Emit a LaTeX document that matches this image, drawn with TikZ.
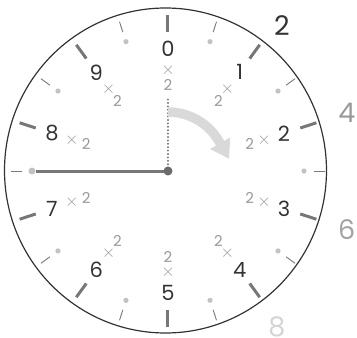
\documentclass[tikz,border=0pt]{standalone}
\usepackage{fontspec}
\setmainfont{Poppins}
\usetikzlibrary{arrows.meta}
\definecolor{ink}{HTML}{333333}
\definecolor{tickgray}{HTML}{777777}
\definecolor{softgray}{HTML}{999999}
\definecolor{dotgray}{HTML}{C2C2C2}
\definecolor{turngray}{HTML}{D9D9D9}

\tikzset{
  rim/.style={draw=ink, line width=1.2pt},
  bigtick/.style={draw=tickgray, line width=3pt},
  smalltick/.style={draw=tickgray, line width=0.9pt},
  num/.style={text=ink, font=\fontsize{21}{21}\selectfont, inner sep=0pt},
  timesmark/.style={text=softgray, font=\fontsize{16}{16}\selectfont, inner sep=0pt},
  twomark/.style={text=softgray, font=\fontsize{15}{15}\selectfont, inner sep=0pt},
  result/.style={font=\fontsize{27}{27}\selectfont, inner sep=0pt},
  hub/.style={circle, fill=tickgray!90!black, minimum size=9pt, inner sep=0pt},
  handend/.style={circle, fill=dotgray, minimum size=7pt, inner sep=0pt},
  hand/.style={draw=tickgray, line width=3pt},
  guide/.style={draw=tickgray, line width=2.2pt, line cap=round, dash pattern=on 0pt off 3.4pt},
  turn/.style={draw=turngray, line width=9.5pt, -{Triangle[width=22pt,length=18pt]}}
}

\begin{document}
\begin{tikzpicture}[x=1pt, y=1pt]
\useasboundingbox (-168,-167) rectangle (189,171);

% dial
\draw[rim] (-2.5,0.5) ellipse [x radius=161, y radius=162.5];
\foreach \a in {90,54,...,-234} \draw[bigtick] (\a:139) -- (\a:156);
\foreach \a in {72,36,...,-252} {
  \draw[smalltick] (\a:146) -- (\a:157);
  \fill[dotgray] (\a:136) circle[radius=2.6];
}

% numbers
\node[num] (n0) at (90:122) {0};
\node[num] (n1) at (54:122) {1};
\node[num] (n2) at (18:122) {2};
\node[num] (n3) at (-18:122) {3};
\node[num] (n4) at (-54:122) {4};
\node[num] (n5) at (-90:122) {5};
\node[num] (n6) at (-126:122) {6};
\node[num] (n7) at (-162:122) {7};
\node[num] (n8) at (162:122) {8};
\node[num] (n9) at (126:122) {9};

% times two
\foreach \a in {90,54,...,-234} {
  \node[timesmark] at (\a:101) {$\times$};
  \node[twomark] at (\a:86) {2};
}

% results
\node[result, text=ink] (r2) at (52:185) {2};
\node[result, text=softgray] (r4) at (18:188) {4};
\node[result, text=softgray!90] (r6) at (-18:188) {6};
\node[result, text=dotgray!70] (r8) at (-55:190) {8};

% hands
\node[handend] (tail) at (-136,0) {};
\coordinate (top) at (0,74);
\draw[hand] (0,0) -- (tail);
\draw[guide] (0,0) -- (top);
\node[hub] (ctr) at (0,0) {};
\draw[turn] (90:59) arc[start angle=90, end angle=30, radius=59] -- ++(-60:20);
\end{tikzpicture}
\end{document}
